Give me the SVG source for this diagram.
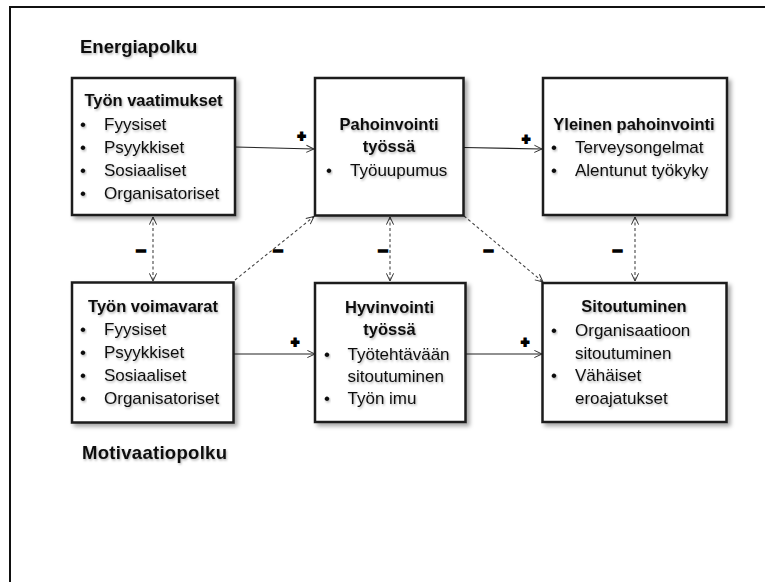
<svg xmlns="http://www.w3.org/2000/svg" width="765" height="582" viewBox="0 0 765 582">
<defs>
<filter id="shadow" x="-10%" y="-10%" width="125%" height="125%">
<feDropShadow dx="3" dy="3" stdDeviation="2" flood-color="#000" flood-opacity="0.35"/>
</filter>
<filter id="tshadow" x="-10%" y="-30%" width="120%" height="170%">
<feDropShadow dx="1" dy="1.5" stdDeviation="1" flood-color="#000" flood-opacity="0.3"/>
</filter>
<marker id="arr" viewBox="0 0 10 10" refX="9.5" refY="5" markerWidth="9" markerHeight="9" markerUnits="userSpaceOnUse" orient="auto-start-reverse">
<path d="M1,1 L9.5,5 L1,9" fill="none" stroke="#333" stroke-width="1.1"/>
</marker>
</defs>
<style>
.box{fill:#fff;stroke:#1a1a1a;stroke-width:2.5;filter:url(#shadow)}
text{font-family:"Liberation Sans",Arial,sans-serif;fill:#111}
.t{font-size:16.5px;font-weight:bold;text-anchor:middle;filter:url(#tshadow)}
.i{font-size:17px;filter:url(#tshadow)}
.h{font-size:18.5px;font-weight:bold;filter:url(#tshadow)}
.sol{stroke:#222;stroke-width:1.1;fill:none}
.dash{stroke:#444;stroke-width:1.1;fill:none;stroke-dasharray:3 2.5}
.plus{font-size:14px;font-weight:bold;text-anchor:middle;stroke:#000;stroke-width:1.8}
.minus{font-size:18px;font-weight:bold;text-anchor:middle;stroke:#000;stroke-width:1.6}
</style>
<rect width="765" height="582" fill="#fff"/>
<path d="M10,582 L10,7 L765,7" fill="none" stroke="#111" stroke-width="2"/>
<text class="h" x="80" y="53">Energiapolku</text>
<text class="h" x="82" y="459" textLength="145" lengthAdjust="spacing">Motivaatiopolku</text>

<g id="connectors">
<line class="sol" x1="235" y1="147" x2="314" y2="149" marker-end="url(#arr)"/>
<line class="sol" x1="464" y1="147.5" x2="542" y2="149" marker-end="url(#arr)"/>
<line class="sol" x1="234" y1="354" x2="315" y2="354" marker-end="url(#arr)"/>
<line class="sol" x1="466" y1="354" x2="542" y2="354" marker-end="url(#arr)"/>
<line class="dash" x1="153" y1="217" x2="153" y2="281" marker-start="url(#arr)" marker-end="url(#arr)"/>
<line class="dash" x1="235" y1="280" x2="314" y2="216.5" marker-end="url(#arr)"/>
<line class="dash" x1="390" y1="217" x2="390" y2="281" marker-start="url(#arr)" marker-end="url(#arr)"/>
<line class="dash" x1="464" y1="216" x2="543" y2="282" marker-end="url(#arr)"/>
<line class="dash" x1="635" y1="217" x2="635" y2="281" marker-start="url(#arr)" marker-end="url(#arr)"/>
<text class="plus" x="301.5" y="141">+</text>
<text class="plus" x="526" y="144">+</text>
<text class="plus" x="295" y="347">+</text>
<text class="plus" x="525" y="347">+</text>
<text class="minus" x="141" y="256">–</text>
<text class="minus" x="278" y="256">–</text>
<text class="minus" x="383" y="256">–</text>
<text class="minus" x="488.5" y="256">–</text>
<text class="minus" x="617.5" y="256">–</text>
</g>

<g id="tyon-vaatimukset">
<rect class="box" x="72" y="78" width="163" height="137"/>
<text class="t" x="153.5" y="106">Työn vaatimukset</text>
<text class="i" x="80" y="130">•</text><text class="i" x="104" y="130">Fyysiset</text>
<text class="i" x="80" y="153">•</text><text class="i" x="104" y="153">Psyykkiset</text>
<text class="i" x="80" y="176">•</text><text class="i" x="104" y="176">Sosiaaliset</text>
<text class="i" x="80" y="198.5">•</text><text class="i" x="104" y="198.5">Organisatoriset</text>
</g>

<g id="pahoinvointi-tyossa">
<rect class="box" x="315" y="78" width="148.5" height="137.5"/>
<text class="t" x="389" y="130">Pahoinvointi</text>
<text class="t" x="389" y="152">työssä</text>
<text class="i" x="326" y="176">•</text><text class="i" x="350" y="176">Työuupumus</text>
</g>

<g id="yleinen-pahoinvointi">
<rect class="box" x="543" y="78" width="184" height="137"/>
<text class="t" x="634" y="130">Yleinen pahoinvointi</text>
<text class="i" x="551" y="153">•</text><text class="i" x="575" y="153">Terveysongelmat</text>
<text class="i" x="551" y="176">•</text><text class="i" x="575" y="176">Alentunut työkyky</text>
</g>

<g id="tyon-voimavarat">
<rect class="box" x="72" y="282.5" width="161.5" height="140"/>
<text class="t" x="153" y="312">Työn voimavarat</text>
<text class="i" x="80" y="335">•</text><text class="i" x="104" y="335">Fyysiset</text>
<text class="i" x="80" y="358">•</text><text class="i" x="104" y="358">Psyykkiset</text>
<text class="i" x="80" y="381">•</text><text class="i" x="104" y="381">Sosiaaliset</text>
<text class="i" x="80" y="404">•</text><text class="i" x="104" y="404">Organisatoriset</text>
</g>

<g id="hyvinvointi-tyossa">
<rect class="box" x="315" y="283" width="150.5" height="139"/>
<text class="t" x="389.5" y="313">Hyvinvointi</text>
<text class="t" x="389.5" y="334.5">työssä</text>
<text class="i" x="324" y="359.5">•</text><text class="i" x="347.5" y="359.5">Työtehtävään</text>
<text class="i" x="347.5" y="382">sitoutuminen</text>
<text class="i" x="324" y="404">•</text><text class="i" x="347.5" y="404">Työn imu</text>
</g>

<g id="sitoutuminen">
<rect class="box" x="542.5" y="283" width="184" height="139"/>
<text class="t" x="634" y="312">Sitoutuminen</text>
<text class="i" x="551" y="336">•</text><text class="i" x="575" y="336">Organisaatioon</text>
<text class="i" x="575" y="358.5">sitoutuminen</text>
<text class="i" x="551" y="381">•</text><text class="i" x="575" y="381">Vähäiset</text>
<text class="i" x="575" y="404">eroajatukset</text>
</g>
</svg>
